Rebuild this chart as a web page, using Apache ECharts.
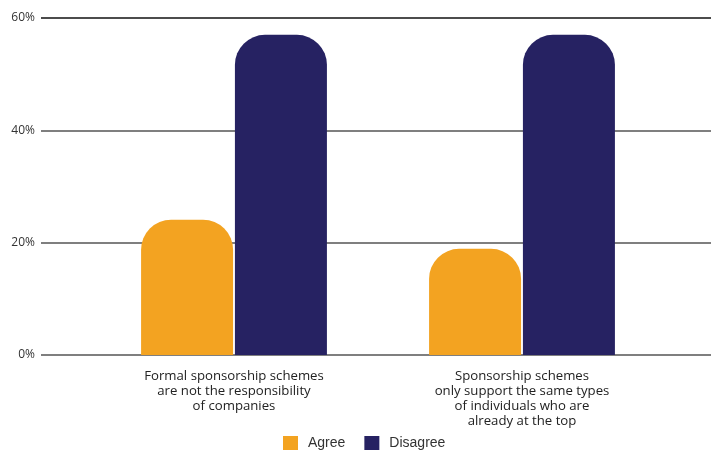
<!DOCTYPE html>
<html>
<head>
<meta charset="utf-8">
<script src="https://cdn.jsdelivr.net/npm/echarts@6/dist/echarts.min.js"></script>
<style>
  html, body { margin: 0; padding: 0; background: #fff; }
  #chart { width: 718px; height: 450px; }
</style>
</head>
<body>
<div id="chart"></div>
<script>
// Survey statements (line breaks as they are set under the axis)
const categories = [
  'Formal sponsorship schemes\nare not the responsibility\nof companies',
  'Sponsorship schemes\nonly support the same types\nof individuals who are\nalready at the top'
];
const agreeValues = [24.1, 18.9];
const disagreeValues = [57.0, 57.0];
const yTicks = [0, 20, 40, 60];

const FONT = '"Open Sans", "Liberation Sans", sans-serif';
const LEGEND_FONT = '"Liberation Sans", Arial, sans-serif';
const TOP = 18, BOTTOM = 95;

const chart = echarts.init(document.getElementById('chart'), null, { renderer: 'canvas' });

chart.setOption({
  animation: false,
  backgroundColor: '#ffffff',
  textStyle: { fontFamily: FONT },
  grid: [
    // full-width grid carrying the horizontal rules and percentage labels
    { left: 41, right: 7, top: TOP, bottom: BOTTOM },
    // narrower grid holding the bars
    { left: 90, right: 52, top: TOP, bottom: BOTTOM }
  ],
  xAxis: [
    { gridIndex: 0, type: 'category', data: categories, show: false },
    {
      gridIndex: 1, type: 'category', data: categories,
      axisLine: { show: false }, axisTick: { show: false },
      axisLabel: {
        interval: 0, margin: 14, color: '#222', fontSize: 13.2,
        lineHeight: 15, fontFamily: FONT
      }
    }
  ],
  yAxis: [
    {
      gridIndex: 0, type: 'value', min: yTicks[0], max: yTicks[yTicks.length - 1], interval: 20,
      axisLine: { show: false }, axisTick: { show: false },
      axisLabel: { formatter: '{value}%', color: '#333', fontSize: 12, margin: 6, fontFamily: FONT },
      splitLine: { lineStyle: { color: ['#555', '#555', '#555', '#111'], width: 1.5 } }
    },
    {
      gridIndex: 1, type: 'value', min: yTicks[0], max: yTicks[yTicks.length - 1], interval: 20,
      show: false, splitLine: { show: false }
    }
  ],
  legend: {
    top: 436, left: 283,
    padding: 0,
    itemWidth: 15, itemHeight: 15, itemGap: 19,
    icon: 'rect',
    textStyle: { color: '#333', fontSize: 14, fontFamily: LEGEND_FONT, padding: [0, 0, 0, 5] },
    data: ['Agree', 'Disagree']
  },
  series: [
    {
      name: 'Agree', type: 'bar', xAxisIndex: 1, yAxisIndex: 1,
      data: agreeValues, barWidth: 92, barGap: '2%',
      itemStyle: { color: '#F3A321', borderRadius: [30, 30, 0, 0] }
    },
    {
      name: 'Disagree', type: 'bar', xAxisIndex: 1, yAxisIndex: 1,
      data: disagreeValues, barWidth: 92, barGap: '2%',
      itemStyle: { color: '#262262', borderRadius: [30, 30, 0, 0] }
    }
  ]
});
</script>
</body>
</html>
